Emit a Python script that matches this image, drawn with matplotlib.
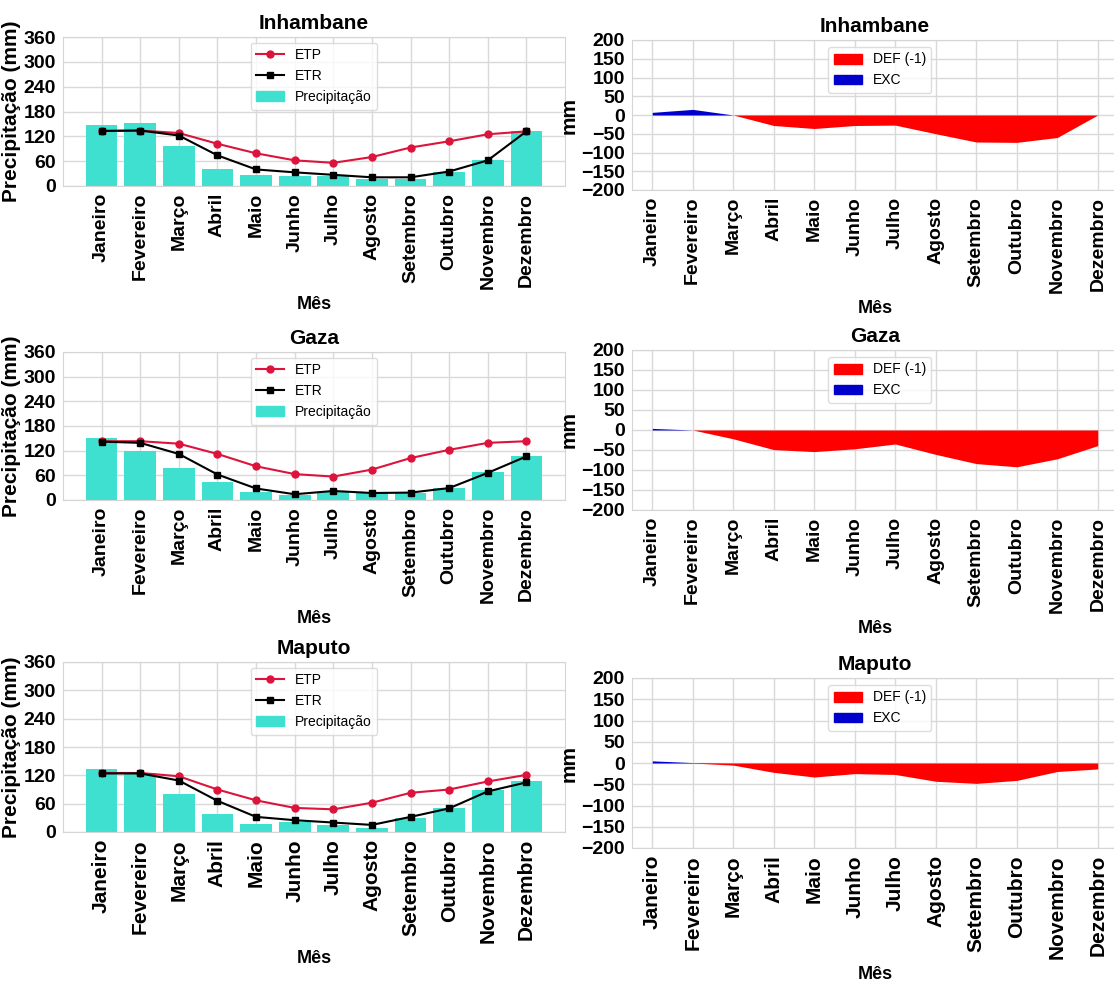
import matplotlib
matplotlib.use('Agg')
import matplotlib.pyplot as plt
from matplotlib.lines import Line2D
from matplotlib.patches import Patch
import numpy as np

plt.rcParams['font.family'] = ['Liberation Sans', 'DejaVu Sans']
plt.rcParams['axes.edgecolor'] = '#d5d5d5'
plt.rcParams['grid.color'] = '#d9d9d9'
plt.rcParams['grid.linewidth'] = 1.0

meses = ['Janeiro', 'Fevereiro', 'Março', 'Abril', 'Maio', 'Junho',
         'Julho', 'Agosto', 'Setembro', 'Outubro', 'Novembro', 'Dezembro']
regioes = ['Inhambane', 'Gaza', 'Maputo']

# precipitacao, evapotranspiracao potencial (ETP) e real (ETR), mm
prec_inhambane = [147, 153, 97, 41, 26, 25, 23, 17, 17, 35, 63, 133]
etp_inhambane = [133, 134, 128, 102, 79, 62, 56, 70, 93, 108, 125, 132]
etr_inhambane = [133, 134, 122, 74, 40, 33, 27, 21, 21, 35, 62, 132]
exc_inhambane = [7, 15, 0, 0, 0, 0, 0, 0, 0, 0, 0, 0]
def_inhambane = [0, 0, 0, -28, -36, -28, -27, -50, -72, -73, -60, 0]

prec_gaza = [150, 120, 79, 43, 19, 12, 19, 17, 17, 29, 67, 107]
etp_gaza = [143, 143, 137, 112, 82, 63, 57, 74, 102, 122, 139, 143]
etr_gaza = [142, 139, 112, 62, 28, 14, 22, 17, 18, 29, 66, 106]
exc_gaza = [4, 0, 0, 0, 0, 0, 0, 0, 0, 0, 0, 0]
def_gaza = [0, 0, -22, -49, -54, -47, -35, -61, -84, -92, -72, -39]

prec_maputo = [133, 125, 81, 39, 16, 21, 15, 9, 30, 50, 88, 107]
etp_maputo = [125, 125, 118, 90, 67, 51, 48, 62, 83, 90, 107, 121]
etr_maputo = [124, 124, 109, 66, 32, 25, 20, 15, 32, 50, 86, 105]
exc_maputo = [5, 1, 0, 0, 0, 0, 0, 0, 0, 0, 0, 0]
def_maputo = [0, 0, -5, -22, -33, -25, -27, -43, -48, -41, -20, -14]

dados = {
    'Inhambane': (prec_inhambane, etp_inhambane, etr_inhambane, exc_inhambane, def_inhambane),
    'Gaza': (prec_gaza, etp_gaza, etr_gaza, exc_gaza, def_gaza),
    'Maputo': (prec_maputo, etp_maputo, etr_maputo, exc_maputo, def_maputo),
}

W, H = 1114, 986
# caixas dos eixos em pixels: (esquerda, topo, direita, base)
caixas_esq = [(63, 37, 565, 186), (63, 352, 565, 500), (63, 662, 565, 832)]
caixas_dir = [(632, 40, 1118, 190), (632, 350, 1118, 510), (632, 678, 1118, 848)]
# tamanho dos nomes dos meses em cada linha
tam_meses = [14, 14, 15]


def eixo(fig, caixa):
    x0, y0, x1, y1 = caixa
    return fig.add_axes([x0/W, 1 - y1/H, (x1 - x0)/W, (y1 - y0)/H])


def formatar(ax, titulo, ylabel, tam):
    ax.set_axisbelow(True)
    ax.grid(True)
    ax.set_xticks(np.arange(12))
    ax.set_xticklabels(meses, rotation=90, fontsize=tam, fontweight='bold')
    ax.tick_params(length=0, pad=5)
    for lab in ax.get_yticklabels():
        lab.set_fontsize(14)
        lab.set_fontweight('bold')
    ax.set_title(titulo, fontsize=15, fontweight='bold', pad=6)
    ax.set_xlabel('Mês', fontsize=13, fontweight='bold', labelpad=5)
    ax.set_ylabel(ylabel, fontsize=15, fontweight='bold', labelpad=2)


fig = plt.figure(figsize=(W/100, H/100), dpi=100)
x = np.arange(12)

for i, reg in enumerate(regioes):
    prec, etp, etr, exc, dfc = dados[reg]

    # balanco hidrico: precipitacao, ETP e ETR
    ax = eixo(fig, caixas_esq[i])
    ax.bar(x, prec, width=0.82, color='turquoise', zorder=2)
    ax.plot(x, etp, color='crimson', marker='o', markersize=5, lw=1.5, zorder=3)
    ax.plot(x, etr, color='black', marker='s', markersize=5, lw=1.5, zorder=4)
    ax.set_xlim(-1, 12)
    ax.set_ylim(0, 360)
    ax.set_yticks(np.arange(0, 361, 60))
    formatar(ax, reg, 'Precipitação (mm)', tam_meses[i])
    handles = [Line2D([], [], color='crimson', marker='o', markersize=5, lw=1.5),
               Line2D([], [], color='black', marker='s', markersize=5, lw=1.5),
               Patch(color='turquoise')]
    ax.legend(handles, ['ETP', 'ETR', 'Precipitação'], loc='upper center',
              fontsize=10, frameon=True, edgecolor='#d5d5d5', borderaxespad=0.4)

    # deficit e excedente
    ax2 = eixo(fig, caixas_dir[i])
    ax2.fill_between(x, 0, dfc, color='red', lw=0, zorder=2)
    ax2.fill_between(x, 0, exc, color='mediumblue', lw=0, zorder=2)
    ax2.set_xlim(-0.5, 11.5)
    ax2.set_ylim(-200, 200)
    ax2.set_yticks(np.arange(-200, 201, 50))
    formatar(ax2, reg, 'mm', tam_meses[i])
    handles = [Patch(color='red'), Patch(color='mediumblue')]
    ax2.legend(handles, ['DEF (-1)', 'EXC'], loc='upper center',
               fontsize=10, frameon=True, edgecolor='#d5d5d5', borderaxespad=0.5,
               bbox_to_anchor=(0.51, 1))

fig.savefig('out.png', dpi=100)
